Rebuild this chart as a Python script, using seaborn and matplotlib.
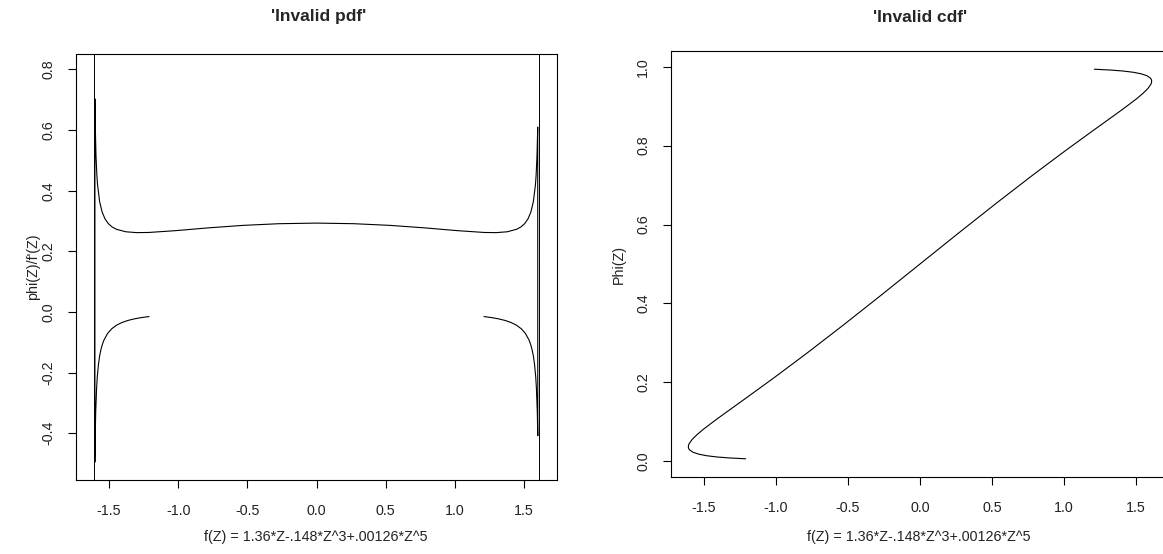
import matplotlib
matplotlib.use("Agg")
import matplotlib.pyplot as plt
import seaborn as sns

# ---- data -----------------------------------------------------------------
# density of the transformed variable: phi(Z)/f'(Z) plotted against f(Z)
pdf_lower_left_x = [-1.2106, -1.2667, -1.3184, -1.3656, -1.4084, -1.4469,
                    -1.4810, -1.5110, -1.5368, -1.5482, -1.5586, -1.5680,
                    -1.5763, -1.5851, -1.5901, -1.5966, -1.6001, -1.6024]
pdf_lower_left_y = [-0.0150, -0.0184, -0.0227, -0.0280, -0.0349, -0.0437,
                    -0.0553, -0.0709, -0.0925, -0.1066, -0.1236, -0.1447,
                    -0.1713, -0.2136, -0.2512, -0.3304, -0.4082, -0.4950]

pdf_upper_x = [-1.6022, -1.6014, -1.5999, -1.5946, -1.5880, -1.5830, -1.5681,
               -1.5501, -1.5289, -1.5047, -1.4775, -1.4475, -1.3794, -1.3010,
               -1.2133, -1.0126, -0.7841, -0.5345, -0.2708, 0.0000,
               0.2708, 0.5345, 0.7841, 1.0126, 1.2133, 1.3010, 1.3794,
               1.4475, 1.4775, 1.5047, 1.5289, 1.5501, 1.5681, 1.5830,
               1.5880, 1.5946, 1.5996]
pdf_upper_y = [0.7030, 0.6676, 0.6195, 0.5167, 0.4510, 0.4191, 0.3641,
               0.3297, 0.3069, 0.2913, 0.2805, 0.2730, 0.2647, 0.2619,
               0.2624, 0.2686, 0.2775, 0.2857, 0.2913, 0.2933,
               0.2913, 0.2857, 0.2775, 0.2686, 0.2624, 0.2619, 0.2647,
               0.2730, 0.2805, 0.2913, 0.3069, 0.3297, 0.3641, 0.4191,
               0.4510, 0.5167, 0.6100]

pdf_lower_right_x = [1.6001, 1.5966, 1.5901, 1.5851, 1.5763, 1.5680,
                     1.5586, 1.5482, 1.5368, 1.5110, 1.4810, 1.4469,
                     1.4084, 1.3656, 1.3184, 1.2667, 1.2106]
pdf_lower_right_y = [-0.4082, -0.3304, -0.2512, -0.2136, -0.1713, -0.1447,
                     -0.1236, -0.1066, -0.0925, -0.0709, -0.0553, -0.0437,
                     -0.0349, -0.0280, -0.0227, -0.0184, -0.0150]

# turning points of f(Z)
asymptotes = [-1.6086, 1.6086]

# distribution function: Phi(Z) plotted against f(Z)
cdf_x = [-1.2106, -1.3184, -1.4084, -1.4810, -1.5368, -1.5763, -1.6001,
         -1.6062, -1.6087, -1.6075, -1.6028, -1.5830, -1.5501, -1.5047,
         -1.4475, -1.3794, -1.3010, -1.2133, -1.0126, -0.7841, -0.5345,
         -0.2708, 0.0000, 0.2708, 0.5345, 0.7841, 1.0126, 1.2133, 1.3010,
         1.3794, 1.4475, 1.5047, 1.5501, 1.5830, 1.6028, 1.6075, 1.6087,
         1.6062, 1.6001, 1.5763, 1.5368, 1.4810, 1.4084, 1.3184, 1.2106]
cdf_y = [0.0062, 0.0082, 0.0107, 0.0139, 0.0179, 0.0228, 0.0287,
         0.0322, 0.0359, 0.0401, 0.0446, 0.0548, 0.0668, 0.0808,
         0.0968, 0.1151, 0.1357, 0.1587, 0.2119, 0.2743, 0.3446,
         0.4207, 0.5000, 0.5793, 0.6554, 0.7257, 0.7881, 0.8413, 0.8643,
         0.8849, 0.9032, 0.9192, 0.9332, 0.9452, 0.9554, 0.9599, 0.9641,
         0.9678, 0.9713, 0.9772, 0.9821, 0.9861, 0.9893, 0.9918, 0.9938]

x_ticks = [-1.5, -1.0, -0.5, 0.0, 0.5, 1.0, 1.5]
x_tick_labels = ["-1.5", "-1.0", "-0.5", "0.0", "0.5", "1.0", "1.5"]
pdf_y_ticks = [-0.4, -0.2, 0.0, 0.2, 0.4, 0.6, 0.8]
pdf_y_tick_labels = ["-0.4", "-0.2", "0.0", "0.2", "0.4", "0.6", "0.8"]
cdf_y_ticks = [0.0, 0.2, 0.4, 0.6, 0.8, 1.0]
cdf_y_tick_labels = ["0.0", "0.2", "0.4", "0.6", "0.8", "1.0"]

titles = ["'Invalid pdf'", "'Invalid cdf'"]
x_label = "f(Z) = 1.36*Z-.148*Z^3+.00126*Z^5"
y_labels = ["phi(Z)/f'(Z)", "Phi(Z)"]

# ---- style ----------------------------------------------------------------
sns.set_style("white")
plt.rcParams["font.family"] = ["Liberation Sans", "DejaVu Sans"]

W, H = 1163, 554
fig = plt.figure(figsize=(W / 100, H / 100), dpi=100)


def frac_box(left, top, right, bottom):
    return [left / W, 1 - bottom / H, (right - left) / W, (bottom - top) / H]


ax1 = fig.add_axes(frac_box(76, 54, 557, 480))
ax2 = fig.add_axes(frac_box(671, 51, 1169, 477))

line_kw = dict(color="black", linewidth=0.8, sort=False, estimator=None)

# left panel: one polyline through all three branches
pdf_x = pdf_lower_left_x + pdf_upper_x + pdf_lower_right_x
pdf_y = pdf_lower_left_y + pdf_upper_y + pdf_lower_right_y
sns.lineplot(x=pdf_x, y=pdf_y, ax=ax1, **line_kw)
for a in asymptotes:
    ax1.axvline(a, color="black", linewidth=0.7)
ax1.set_xlim(-1.739, 1.739)
ax1.set_ylim(-0.554, 0.851)

# right panel
sns.lineplot(x=cdf_x, y=cdf_y, ax=ax2, **line_kw)
ax2.set_xlim(-1.729, 1.729)
ax2.set_ylim(-0.040, 1.040)

for ax, yt, ytl in [(ax1, pdf_y_ticks, pdf_y_tick_labels),
                    (ax2, cdf_y_ticks, cdf_y_tick_labels)]:
    ax.set_xticks(x_ticks)
    ax.set_xticklabels(x_tick_labels)
    ax.set_yticks(yt)
    ax.set_yticklabels(ytl, rotation=90, va="center")
    ax.tick_params(axis="both", which="major", direction="out", length=6,
                   width=0.8, color="black", labelsize=10.3,
                   labelcolor="#222222", left=True, bottom=True)
    ax.tick_params(axis="x", pad=11)
    ax.tick_params(axis="y", pad=9)
    for s in ax.spines.values():
        s.set_visible(True)
        s.set_color("black")
        s.set_linewidth(0.8)
    ax.set_xlabel("")
    ax.set_ylabel("")

# titles and axis labels
fig.text(319 / W, 1 - 17 / H, titles[0], ha="center", va="center",
         fontsize=12.5, fontweight="bold")
fig.text(920 / W, 1 - 17 / H, titles[1], ha="center", va="center",
         fontsize=12.5, fontweight="bold")
fig.text(316 / W, 1 - 537 / H, x_label, ha="center", va="center",
         fontsize=10.3, color="#222222")
fig.text(919 / W, 1 - 537 / H, x_label, ha="center", va="center",
         fontsize=10.3, color="#222222")
fig.text(33 / W, 1 - 267 / H, y_labels[0], ha="center", va="center",
         rotation=90, fontsize=10.3, color="#222222")
fig.text(619 / W, 1 - 264 / H, y_labels[1], ha="center", va="center",
         rotation=90, fontsize=10.3, color="#222222")

fig.savefig("out.png", dpi=100)
